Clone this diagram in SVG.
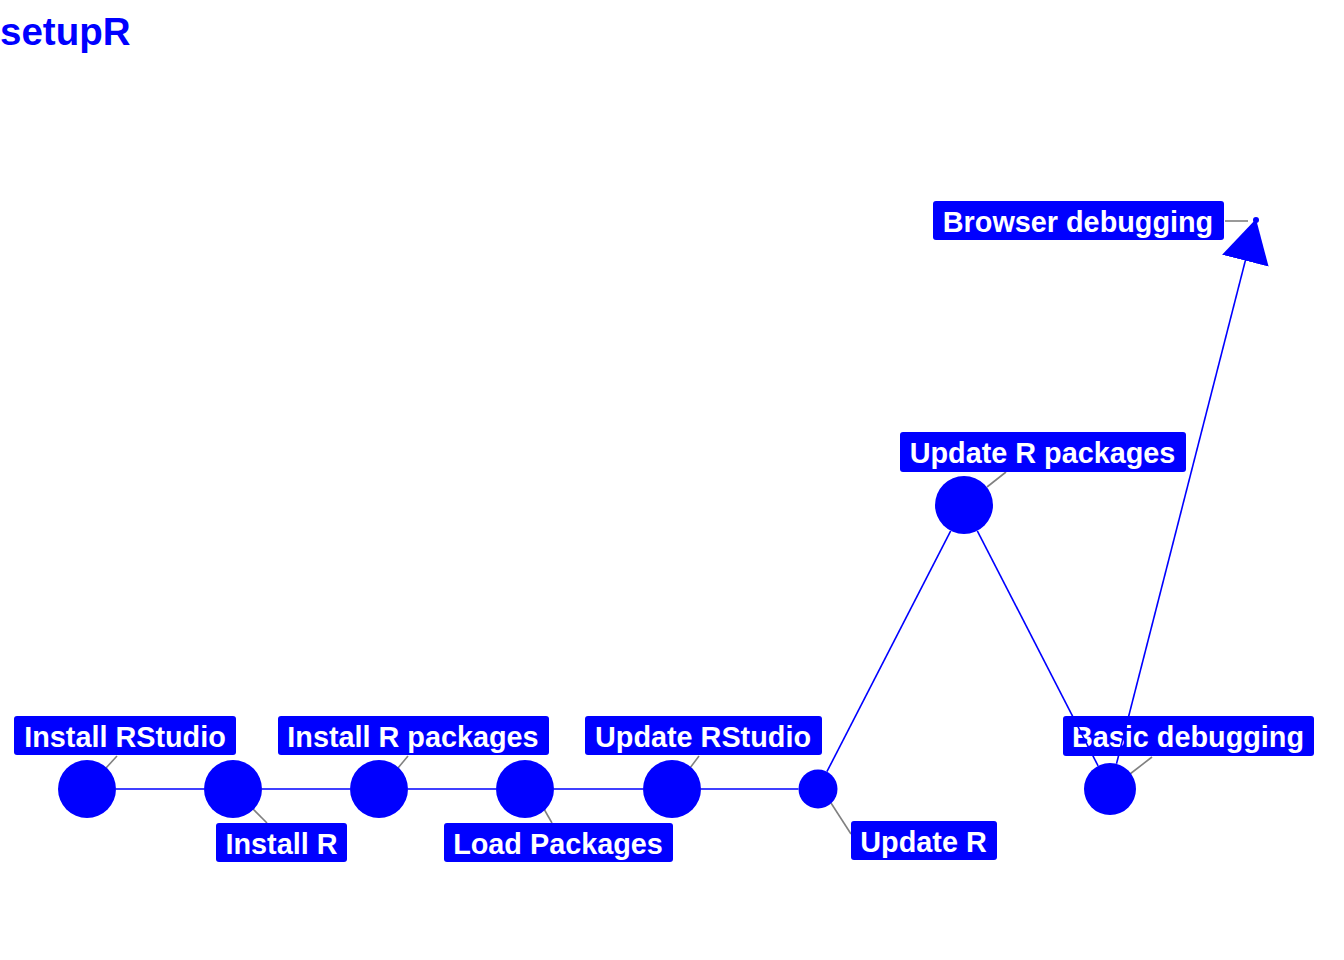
<svg xmlns="http://www.w3.org/2000/svg" width="1344" height="960" viewBox="0 0 1344 960">
<style>
.bg{fill:#ffffff}
.title{font-family:"Liberation Sans",Arial,sans-serif;font-weight:bold;font-size:38.5px;fill:#0000ff}
.node{fill:#0000ff}
.box{fill:#0000ff}
.lbl{font-family:"Liberation Sans",Arial,sans-serif;font-weight:bold;font-size:28.8px;fill:#ffffff;text-anchor:middle}
.lead{stroke:#808080;stroke-width:1.6;fill:none}
.edge{stroke:#0000ff;stroke-width:1.6;fill:none}
</style>
<defs>
<marker id="arr" markerUnits="userSpaceOnUse" viewBox="0 -24 43 48" refX="43" refY="0" markerWidth="43" markerHeight="48" orient="auto">
<path d="M0,-24 L43,0 L0,24 Z" fill="#0000ff"/>
</marker>
</defs>
<rect class="bg" x="0" y="0" width="1344" height="960"/>
<text class="title" x="0" y="45">setupR</text>

<g id="node-install-rstudio">
<line class="lead" x1="106" y1="768" x2="117" y2="756"/>
<circle class="node" cx="87" cy="789" r="29"/>
<rect class="box" x="14" y="716" width="222" height="39" rx="3"/>
<text class="lbl" x="125" y="747">Install RStudio</text>
</g>
<g id="node-install-r">
<line class="lead" x1="253" y1="809" x2="267" y2="823"/>
<circle class="node" cx="233" cy="789" r="29"/>
<rect class="box" x="216" y="823" width="131" height="39" rx="3"/>
<text class="lbl" x="281.5" y="854">Install R</text>
</g>
<g id="node-install-r-packages">
<line class="lead" x1="398" y1="768" x2="408" y2="756"/>
<circle class="node" cx="379" cy="789" r="29"/>
<rect class="box" x="278" y="716" width="271" height="39" rx="3"/>
<text class="lbl" x="413" y="747">Install R packages</text>
</g>
<g id="node-load-packages">
<line class="lead" x1="544" y1="809" x2="552" y2="823"/>
<circle class="node" cx="525" cy="789" r="29"/>
<rect class="box" x="444" y="823" width="229" height="39" rx="3"/>
<text class="lbl" x="558" y="854">Load Packages</text>
</g>
<g id="node-update-rstudio">
<line class="lead" x1="690" y1="768" x2="699" y2="756"/>
<circle class="node" cx="672" cy="789" r="29"/>
<rect class="box" x="585" y="716" width="237" height="39" rx="3"/>
<text class="lbl" x="703" y="747">Update RStudio</text>
</g>
<g id="node-update-r">
<line class="lead" x1="831" y1="803" x2="851" y2="834"/>
<circle class="node" cx="818" cy="789" r="19.5"/>
<rect class="box" x="851" y="821" width="146" height="39" rx="3"/>
<text class="lbl" x="923.5" y="852">Update R</text>
</g>
<g id="node-update-r-packages">
<line class="lead" x1="987" y1="487" x2="1006" y2="472"/>
<circle class="node" cx="964" cy="505" r="29"/>
<rect class="box" x="900" y="432" width="286" height="40" rx="3"/>
<text class="lbl" x="1042.5" y="463">Update R packages</text>
</g>
<g id="node-basic-debugging">
<line class="lead" x1="1130" y1="774" x2="1152" y2="757"/>
<circle class="node" cx="1110" cy="789" r="26"/>
<rect class="box" x="1063" y="716" width="251" height="40" rx="3"/>
<text class="lbl" x="1188" y="747">Basic debugging</text>
</g>
<g id="node-browser-debugging">
<line class="lead" x1="1225" y1="221" x2="1248" y2="221"/>
<circle class="node" cx="1256" cy="220" r="3"/>
<rect class="box" x="933" y="201" width="291" height="39" rx="3"/>
<text class="lbl" x="1078" y="232">Browser debugging</text>
</g>

<g id="connectors">
<line class="edge" x1="116" y1="789" x2="204" y2="789"/>
<line class="edge" x1="262" y1="789" x2="350" y2="789"/>
<line class="edge" x1="408" y1="789" x2="496" y2="789"/>
<line class="edge" x1="554" y1="789" x2="643" y2="789"/>
<line class="edge" x1="701" y1="789" x2="798.5" y2="789"/>
<line class="edge" x1="826.9" y1="771.7" x2="950.7" y2="530.8"/>
<line class="edge" x1="977.3" y1="530.8" x2="1098.1" y2="765.9"/>
<line class="edge" x1="1116.5" y1="763.8" x2="1256" y2="219" marker-end="url(#arr)"/>
</g>
</svg>
